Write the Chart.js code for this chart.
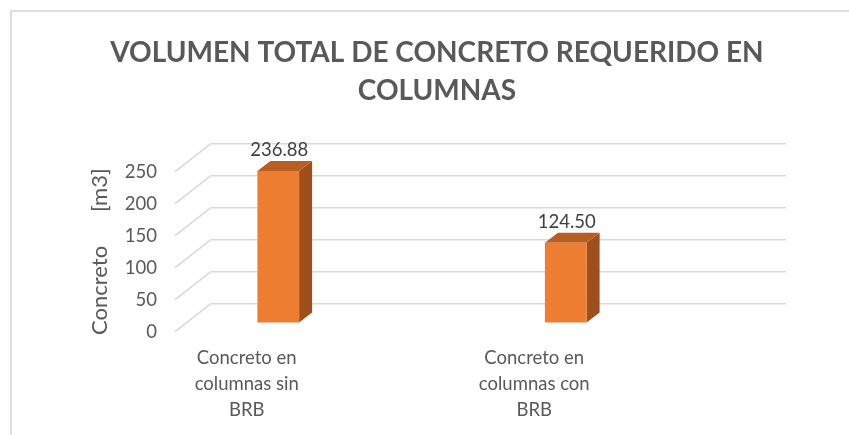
<!DOCTYPE html>
<html>
<head>
<meta charset="utf-8">
<script src="https://cdn.jsdelivr.net/npm/chart.js@4.4.1/dist/chart.umd.min.js"></script>
<style>
  html, body { margin: 0; padding: 0; background: #fff; }
</style>
</head>
<body>
<canvas id="canvas" width="849" height="435"></canvas>
<script>
var categories = [
    ['Concreto en', 'columnas sin', 'BRB'],
    ['Concreto en', 'columnas con', 'BRB']
];
var volumes = [236.88, 124.50];
var yTicks = [0, 50, 100, 150, 200, 250];

var textColor = '#595959';
var fontFamily = 'Lato, Calibri, sans-serif';

// fake 3D: floor-to-back-wall gridlines and extruded bars
var depth3d = {
    id: 'depth3d',
    beforeDraw: function(chart) {
        var ctx = chart.ctx;
        ctx.save();
        ctx.fillStyle = '#ffffff';
        ctx.fillRect(0, 0, chart.width, chart.height);
        ctx.strokeStyle = '#dedede';
        ctx.lineWidth = 2;
        ctx.beginPath();
        ctx.moveTo(11, chart.height);
        ctx.lineTo(11, 11);
        ctx.lineTo(chart.width, 11);
        ctx.stroke();
        ctx.restore();
    },
    beforeDatasetsDraw: function(chart) {
        var ctx = chart.ctx, area = chart.chartArea, y = chart.scales.y;
        ctx.save();
        ctx.strokeStyle = '#d9d9d9';
        ctx.lineWidth = 1.6;
        yTicks.forEach(function(v) {
            var py = y.getPixelForValue(v);
            ctx.beginPath();
            ctx.moveTo(area.left, py);
            ctx.lineTo(area.left + 36, py - 28);
            ctx.lineTo(area.right + 36, py - 28);
            ctx.stroke();
        });
        ctx.restore();
    },
    afterDatasetsDraw: function(chart) {
        var ctx = chart.ctx;
        var meta = chart.getDatasetMeta(0);
        var ox = -40.5, oy = -9.2, dx = 13, dy = -10;
        ctx.save();
        meta.data.forEach(function(bar, i) {
            var p = bar.getProps(['x', 'y', 'base', 'width'], true);
            var l = p.x - p.width / 2 + ox, r = p.x + p.width / 2 + ox;
            var t = p.y + oy, b = p.base + oy;
            // side face
            ctx.fillStyle = '#9e4f1c';
            ctx.beginPath();
            ctx.moveTo(r, b);
            ctx.lineTo(r + dx, b + dy);
            ctx.lineTo(r + dx, t + dy);
            ctx.lineTo(r, t);
            ctx.closePath();
            ctx.fill();
            // top face
            ctx.fillStyle = '#b95e22';
            ctx.beginPath();
            ctx.moveTo(l, t);
            ctx.lineTo(l + dx, t + dy);
            ctx.lineTo(r + dx, t + dy);
            ctx.lineTo(r, t);
            ctx.closePath();
            ctx.fill();
            // front face
            ctx.fillStyle = '#ed7d31';
            ctx.fillRect(l, t, r - l, b - t);
            // value label
            ctx.fillStyle = '#404040';
            ctx.font = '18.5px ' + fontFamily;
            ctx.textAlign = 'center';
            ctx.textBaseline = 'middle';
            ctx.fillText(volumes[i].toFixed(2), (l + r) / 2 + 1, t - 21);
        });
        ctx.restore();
    }
};

var ctx = document.getElementById('canvas').getContext('2d');
var chart = new Chart(ctx, {
    type: 'bar',
    data: {
        labels: categories,
        datasets: [{
            data: volumes,
            backgroundColor: 'rgba(0,0,0,0)',
            borderWidth: 0,
            categoryPercentage: 1,
            barPercentage: 0.145
        }]
    },
    options: {
        responsive: false,
        animation: false,
        layout: {
            padding: { top: 14, left: 87, right: 62, bottom: 0 }
        },
        plugins: {
            legend: { display: false },
            tooltip: { enabled: false },
            title: {
                display: true,
                text: ['VOLUMEN TOTAL DE CONCRETO REQUERIDO EN', 'COLUMNAS'],
                color: textColor,
                font: { family: fontFamily, size: 28, weight: 'bold', lineHeight: 1.357 },
                padding: { top: 20, bottom: 61.7 }
            }
        },
        scales: {
            x: {
                grid: { display: false, drawTicks: false },
                border: { display: false },
                ticks: {
                    color: textColor,
                    font: { family: fontFamily, size: 18.5, lineHeight: 1.41 },
                    labelOffset: -72,
                    padding: 13,
                    maxRotation: 0,
                    autoSkip: false
                },
                afterFit: function(s) { s.height = 103.3; }
            },
            y: {
                min: 0,
                max: 250,
                grid: { display: false, drawTicks: false },
                border: { display: false },
                ticks: {
                    stepSize: 50,
                    color: textColor,
                    font: { family: fontFamily, size: 18.5 },
                    padding: 18
                },
                title: {
                    display: true,
                    text: 'Concreto      [m3]',
                    color: textColor,
                    font: { family: fontFamily, size: 22 },
                    padding: { top: 0, bottom: 0 }
                },
                afterFit: function(s) { s.width = 88; }
            },
            y2: {
                position: 'right',
                grid: { display: false, drawTicks: false },
                border: { display: false },
                ticks: { display: false },
                afterFit: function(s) { s.width = 37; }
            }
        }
    },
    plugins: [depth3d]
});
</script>
</body>
</html>
